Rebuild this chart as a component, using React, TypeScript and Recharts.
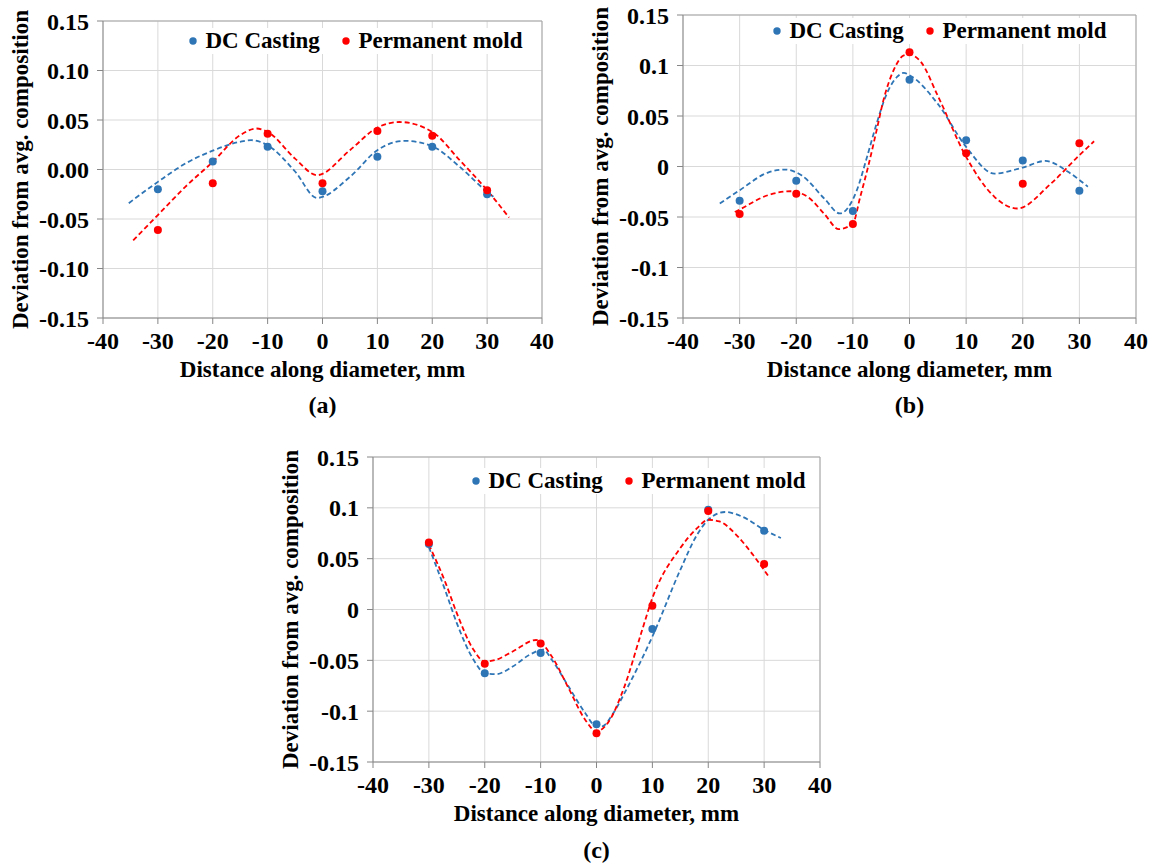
import { ComposedChart, Scatter, Line, XAxis, YAxis, CartesianGrid, Legend, ReferenceLine } from "recharts"

const FONT = '"Liberation Serif", "Times New Roman", serif'
const BLUE = "#2E75B6"
const RED = "#FF0000"

// measurement positions, mm
const positions = [-30, -20, -10, 0, 10, 20, 30]
const xTicks = [-40, -30, -20, -10, 0, 10, 20, 30, 40]
const yTicks = [-0.15, -0.1, -0.05, 0, 0.05, 0.1, 0.15]
const yLabelsA = ["-0.15", "-0.10", "-0.05", "0.00", "0.05", "0.10", "0.15"]
const yLabelsBC = ["-0.15", "-0.1", "-0.05", "0", "0.05", "0.1", "0.15"]

// (a)
const aDc = [-0.02, 0.008, 0.023, -0.022, 0.013, 0.023, -0.025]
const aPm = [-0.061, -0.014, 0.036, -0.014, 0.039, 0.034, -0.021]
const aDcTrend = [
  [-35.3, -0.034], [-30, -0.0125], [-25, 0.006], [-20, 0.019], [-15, 0.028], [-13, 0.0296],
  [-10, 0.0245], [-5, -0.002], [-1, -0.0287], [5, -0.0075], [10, 0.0195], [15, 0.029],
  [20, 0.0235], [25, 0.0027], [30, -0.0226], [31.5, -0.029],
]
const aPmTrend = [
  [-34.5, -0.0716], [-30, -0.046], [-25, -0.0175], [-20, 0.0077], [-15, 0.0347], [-12, 0.0414],
  [-10, 0.038], [-5, 0.011], [-1, -0.0057], [5, 0.0195], [10, 0.0424], [14, 0.048],
  [20, 0.038], [25, 0.0094], [30, -0.021], [34, -0.0485],
]

// (b)
const bDc = [-0.034, -0.014, -0.044, 0.086, 0.026, 0.006, -0.024]
const bPm = [-0.047, -0.027, -0.057, 0.113, 0.013, -0.017, 0.023]
const bDcTrend = [
  [-33.5, -0.0366], [-30, -0.0235], [-25, -0.006], [-22, -0.003], [-19, -0.009], [-15, -0.032],
  [-12.3, -0.0465], [-9.3, -0.0235], [-7.5, 0.0095], [-5.8, 0.0426], [-4, 0.0723], [-2.2, 0.0887],
  [-1, 0.0927], [0, 0.0904], [5, 0.062], [10, 0.0194], [15, -0.007], [20, -0.001],
  [24, 0.0055], [28, -0.0053], [31.5, -0.02],
]
const bPmTrend = [
  [-30.85, -0.045], [-30, -0.0426], [-25, -0.0284], [-21, -0.0245], [-18, -0.03], [-15, -0.0472],
  [-12.5, -0.062], [-10, -0.0564], [-8.7, -0.03], [-7.3, 0], [-5.8, 0.036], [-4.6, 0.0657],
  [-2.8, 0.0954], [-1, 0.11], [0, 0.111], [2, 0.1036], [5, 0.07], [10, 0.0095],
  [15, -0.03], [19, -0.0416], [25, -0.0168], [30, 0.0112], [32.6, 0.025],
]

// (c)
const cDc = [0.0644, -0.0626, -0.0429, -0.1128, -0.0193, 0.0981, 0.0775]
const cPm = [0.066, -0.0534, -0.0334, -0.1217, 0.0036, 0.097, 0.0447]
const cDcTrend = [
  [-30, 0.0614], [-27, 0.0177], [-25, -0.0134], [-22, -0.0495], [-20, -0.0626], [-18, -0.0636],
  [-15, -0.0561], [-12, -0.0446], [-9.5, -0.0395], [-8, -0.0495], [-5, -0.0758], [-2, -0.102],
  [0, -0.1151], [1, -0.115], [3, -0.102], [5, -0.0823], [10, -0.0266], [15, 0.039],
  [18, 0.0735], [20, 0.0883], [23, 0.0959], [26, 0.0915], [30, 0.0784], [33, 0.0703],
]
const cPmTrend = [
  [-30, 0.0637], [-27, 0.026], [-25, -0.0036], [-22, -0.0397], [-20, -0.0512], [-18, -0.0495],
  [-15, -0.0413], [-10.8, -0.03], [-8, -0.0462], [-5, -0.0774], [-2, -0.1086], [0, -0.12],
  [2, -0.1118], [5, -0.0758], [8, -0.0232], [10, 0.0112], [15, 0.0604], [18, 0.08],
  [20, 0.0883], [22, 0.0866], [25, 0.0735], [28, 0.0538], [31, 0.0309],
]

const toPoints = (ys: number[]) => positions.map((x, i) => ({ x, y: ys[i] }))
const toCurve = (pts: number[][]) => pts.map(([x, y]) => ({ x, y }))

const tickStyle = { fill: "#000", fontSize: 24, fontWeight: "bold", fontFamily: FONT }

function LegendBox(props: any) {
  const items = (props.payload || []).filter((p: any) => p.type !== "none")
  return (
    <div
      style={{
        display: "flex",
        alignItems: "center",
        background: "#fff",
        padding: "0 4px",
        fontFamily: FONT,
        fontWeight: "bold",
        fontSize: 23,
        lineHeight: "26px",
        color: "#000",
        whiteSpace: "nowrap",
      }}
    >
      {items.map((it: any, i: number) => (
        <div key={i} style={{ display: "flex", alignItems: "center", marginRight: i < items.length - 1 ? 22 : 0 }}>
          <svg width={8} height={8} style={{ marginRight: 8.5 }}>
            <circle cx={4} cy={4} r={3.7} fill={it.color} />
          </svg>
          <span>{it.value}</span>
        </div>
      ))}
    </div>
  )
}

interface PanelProps {
  dc: number[]
  pm: number[]
  dcTrend: number[][]
  pmTrend: number[][]
  yLabels: string[]
  letter: string
  left: number
  top: number
  width: number
  height: number
  margin: { top: number; right: number; bottom: number; left: number }
  legendLeft: number
  legendTop: number
  letterTop: number
}

function Panel({ dc, pm, dcTrend, pmTrend, yLabels, letter, left, top, width, height, margin, legendLeft, legendTop, letterTop }: PanelProps) {
  const yAxisWidth = 103
  const plotCenter = left + yAxisWidth + (width - yAxisWidth - margin.right) / 2
  const fmtY = (v: number) => yLabels[yTicks.findIndex((t) => Math.abs(t - v) < 1e-9)] ?? String(v)
  const dot = (color: string) => (p: any) => <circle cx={p.cx} cy={p.cy} r={4} fill={color} />

  return (
    <>
      <div style={{ position: "absolute", left, top }}>
        <ComposedChart width={width} height={height} margin={margin}>
          <CartesianGrid stroke="#d9d9d9" strokeWidth={1} />
          <XAxis
            type="number"
            dataKey="x"
            domain={[-40, 40]}
            ticks={xTicks}
            interval={0}
            height={64}
            tickSize={6}
            tickMargin={8}
            stroke="#868686"
            tick={tickStyle}
            label={{
              value: "Distance along diameter, mm",
              position: "insideBottom",
              offset: 5,
              fill: "#000",
              fontSize: 23,
              fontWeight: "bold",
              fontFamily: FONT,
            }}
          />
          <YAxis
            type="number"
            dataKey="y"
            domain={[-0.15, 0.15]}
            ticks={yTicks}
            interval={0}
            width={yAxisWidth}
            tickSize={6}
            tickMargin={8}
            stroke="#868686"
            tick={tickStyle}
            tickFormatter={fmtY}
            label={{
              value: "Deviation from avg. composition",
              angle: -90,
              position: "insideLeft",
              offset: 20,
              fill: "#000",
              fontSize: 23,
              fontWeight: "bold",
              fontFamily: FONT,
              style: { textAnchor: "middle" },
            }}
          />
          <ReferenceLine y={0.15} stroke="#a6a6a6" />
          <ReferenceLine x={40} stroke="#a6a6a6" />
          <Legend
            layout="horizontal"
            verticalAlign="middle"
            align="center"
            content={LegendBox}
            wrapperStyle={{ left: legendLeft, top: legendTop, width: "auto" }}
          />
          <Line
            data={toCurve(dcTrend)}
            dataKey="y"
            type="monotone"
            stroke={BLUE}
            strokeWidth={1.8}
            strokeDasharray="5 3"
            dot={false}
            activeDot={false}
            legendType="none"
            isAnimationActive={false}
          />
          <Line
            data={toCurve(pmTrend)}
            dataKey="y"
            type="monotone"
            stroke={RED}
            strokeWidth={1.8}
            strokeDasharray="5 3"
            dot={false}
            activeDot={false}
            legendType="none"
            isAnimationActive={false}
          />
          <Scatter name="DC Casting" data={toPoints(dc)} dataKey="y" fill={BLUE} shape={dot(BLUE)} isAnimationActive={false} />
          <Scatter name="Permanent mold" data={toPoints(pm)} dataKey="y" fill={RED} shape={dot(RED)} isAnimationActive={false} />
        </ComposedChart>
      </div>
      <div
        style={{
          position: "absolute",
          left: plotCenter - 40,
          width: 80,
          top: letterTop,
          textAlign: "center",
          fontFamily: FONT,
          fontWeight: "bold",
          fontSize: 24,
          lineHeight: "28px",
          color: "#000",
        }}
      >
        {letter}
      </div>
    </>
  )
}

export default function App() {
  return (
    <div style={{ position: "absolute", left: 0, top: 0, width: 1153, height: 864, background: "#fff", overflow: "hidden" }}>
      <Panel
        dc={aDc}
        pm={aPm}
        dcTrend={aDcTrend}
        pmTrend={aPmTrend}
        yLabels={yLabelsA}
        letter="(a)"
        left={0}
        top={0}
        width={560}
        height={400}
        margin={{ top: 21, right: 18, bottom: 18, left: 0 }}
        legendLeft={185}
        legendTop={28}
        letterTop={391}
      />
      <Panel
        dc={bDc}
        pm={bPm}
        dcTrend={bDcTrend}
        pmTrend={bPmTrend}
        yLabels={yLabelsBC}
        letter="(b)"
        left={580}
        top={0}
        width={573}
        height={400}
        margin={{ top: 15, right: 17, bottom: 18, left: 0 }}
        legendLeft={189}
        legendTop={18}
        letterTop={391}
      />
      <Panel
        dc={cDc}
        pm={cPm}
        dcTrend={cDcTrend}
        pmTrend={cPmTrend}
        yLabels={yLabelsBC}
        letter="(c)"
        left={270}
        top={440}
        width={570}
        height={404}
        margin={{ top: 17, right: 20, bottom: 18, left: 0 }}
        legendLeft={198}
        legendTop={28}
        letterTop={836}
      />
    </div>
  )
}
